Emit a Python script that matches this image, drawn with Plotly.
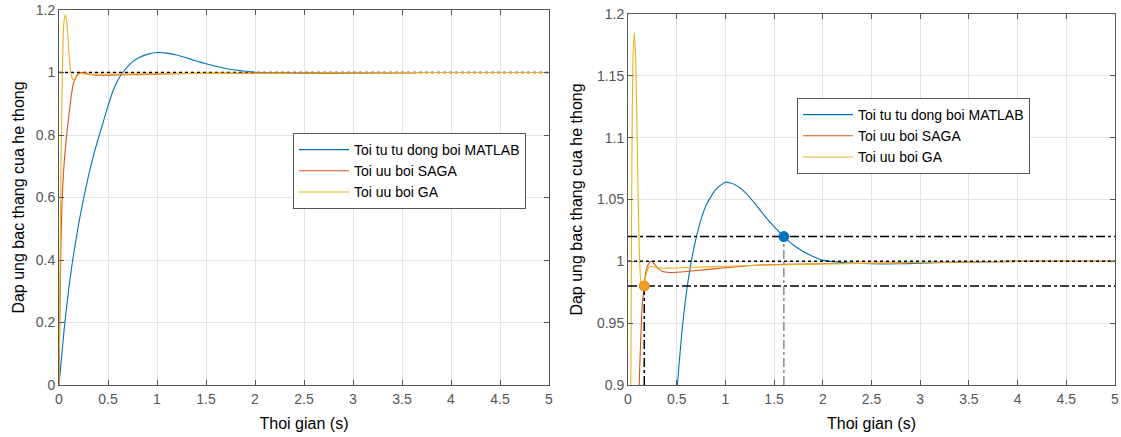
import plotly.graph_objects as go

# ---- data ----
t_matlab = [0, 0.05, 0.1, 0.15, 0.2, 0.25, 0.3, 0.35, 0.4, 0.45, 0.5, 0.55, 0.6, 0.65,
            0.7, 0.75, 0.8, 0.9, 1.0, 1.1, 1.2, 1.3, 1.4, 1.5, 1.6, 1.7, 1.8, 1.9, 2.0,
            2.2, 2.5, 2.8, 3.0, 3.5, 4.0, 5.0]
y_matlab = [0, 0.17, 0.31, 0.42, 0.515, 0.595, 0.668, 0.732, 0.788, 0.84, 0.893, 0.94, 0.975, 1.0,
            1.019, 1.034, 1.045, 1.058, 1.064, 1.062, 1.056, 1.047, 1.037, 1.028, 1.020, 1.013,
            1.008, 1.004, 1.001, 0.999, 0.998, 0.998, 0.9985, 0.9995, 1.0, 1.0]

t_saga = [0, 0.01, 0.02, 0.03, 0.05, 0.075, 0.1, 0.115, 0.125, 0.14, 0.15, 0.167, 0.18, 0.2,
          0.22, 0.245, 0.27, 0.3, 0.35, 0.43, 0.5, 0.6, 0.8, 1.0, 1.35, 1.6, 2.0, 2.4, 3.0,
          3.5, 4.0, 5.0]
y_saga = [0, 0.25, 0.45, 0.58, 0.70, 0.79, 0.86, 0.90, 0.925, 0.955, 0.968, 0.98, 0.99, 0.996,
          0.999, 1.0, 0.998, 0.995, 0.992, 0.991, 0.9912, 0.9918, 0.9933, 0.9948, 0.997, 0.9975,
          0.998, 0.9984, 0.999, 0.9995, 1.0, 1.0]

t_ga = [0, 0.01, 0.02, 0.03, 0.04, 0.05, 0.065, 0.08, 0.09, 0.1, 0.11, 0.12, 0.13, 0.14,
        0.15, 0.16, 0.18, 0.2, 0.22, 0.25, 0.3, 0.4, 0.6, 0.8, 1.0, 1.35, 1.6, 2.0, 2.5,
        3.0, 3.5, 4.0, 5.0]
y_ga = [0, 0.35, 0.68, 0.92, 1.08, 1.16, 1.185, 1.16, 1.12, 1.07, 1.03, 1.0, 0.985, 0.979,
        0.977, 0.979, 0.987, 0.993, 0.996, 0.9957, 0.9948, 0.9945, 0.995, 0.9955, 0.996,
        0.9968, 0.9972, 0.9978, 0.9984, 0.999, 0.9995, 1.0, 1.0]

names = ["Toi tu tu dong boi MATLAB", "Toi uu boi SAGA", "Toi uu boi GA"]
colors = ["#0072BD", "#D95319", "#EDB120"]

ref_level = 1.0
band_hi = 1.02
band_lo = 0.98
t_settle_matlab = 1.6
t_settle_ga = 0.167

x_ticks = [0, 0.5, 1, 1.5, 2, 2.5, 3, 3.5, 4, 4.5, 5]
left_y_ticks = [0, 0.2, 0.4, 0.6, 0.8, 1, 1.2]
right_y_ticks = [0.9, 0.95, 1, 1.05, 1.1, 1.15, 1.2]

x_title = "Thoi gian (s)"
y_title = "Dap ung bac thang cua he thong"

# ---- figure ----
fig = go.Figure()
series = [(t_matlab, y_matlab), (t_saga, y_saga), (t_ga, y_ga)]

# left panel
fig.add_trace(go.Scatter(x=[0, 5], y=[ref_level, ref_level], mode="lines",
                         line=dict(color="black", width=1.5, dash="dot"),
                         showlegend=False, xaxis="x", yaxis="y", hoverinfo="skip"))
for (tt, yy), n, c in zip(series, names, colors):
    fig.add_trace(go.Scatter(x=tt, y=yy, mode="lines", name=n,
                             line=dict(color=c, width=1.1, shape="spline", smoothing=0.6),
                             xaxis="x", yaxis="y", legend="legend"))

# right panel
for (tt, yy), n, c in zip(series, names, colors):
    fig.add_trace(go.Scatter(x=tt, y=yy, mode="lines", name=n,
                             line=dict(color=c, width=1.1, shape="spline", smoothing=0.6),
                             xaxis="x2", yaxis="y2", legend="legend2"))
ln = dict(xaxis="x2", yaxis="y2", showlegend=False, hoverinfo="skip", mode="lines")
fig.add_trace(go.Scatter(x=[0, 5], y=[ref_level, ref_level],
                         line=dict(color="black", width=1.5, dash="dot"), **ln))
fig.add_trace(go.Scatter(x=[0, 5], y=[band_hi, band_hi],
                         line=dict(color="black", width=1.5, dash="dashdot"), **ln))
fig.add_trace(go.Scatter(x=[0, 5], y=[band_lo, band_lo],
                         line=dict(color="black", width=1.5, dash="dashdot"), **ln))
fig.add_trace(go.Scatter(x=[t_settle_ga, t_settle_ga], y=[0.9, band_lo],
                         line=dict(color="black", width=1.5, dash="dashdot"), **ln))
fig.add_trace(go.Scatter(x=[t_settle_matlab, t_settle_matlab], y=[0.9, band_hi],
                         line=dict(color="#8c8c8c", width=1.5, dash="dashdot"), **ln))
fig.add_trace(go.Scatter(x=[t_settle_matlab], y=[band_hi], mode="markers",
                         marker=dict(color="#0072BD", size=10, line=dict(color="#0072BD", width=1)),
                         xaxis="x2", yaxis="y2", showlegend=False))
fig.add_trace(go.Scatter(x=[t_settle_ga], y=[band_lo], mode="markers",
                         marker=dict(color="#EDA020", size=10, line=dict(color="#E08a18", width=1)),
                         xaxis="x2", yaxis="y2", showlegend=False))

# body margin is removed below, so figure coords = page coords
W, H = 1121, 437


def fx(px):
    return px / W


def fy(py):
    return 1 - py / H


tickfont = dict(family="Liberation Sans, Arial", size=14, color="#555555")
titlefont = dict(family="Liberation Sans, Arial", size=16, color="black")
legfont = dict(family="Liberation Sans, Arial", size=14, color="black")
axis_common = dict(showline=True, linecolor="#555555", linewidth=1, mirror="allticks",
                   ticks="inside", ticklen=5, tickcolor="#555555", showgrid=True,
                   gridcolor="#e3e3e3", gridwidth=1, zeroline=False, tickfont=tickfont,
                   automargin=False)

fig.update_layout(
    width=W, height=H,
    margin=dict(l=0, r=0, t=0, b=0),
    paper_bgcolor="white", plot_bgcolor="white",
    xaxis=dict(domain=[fx(59), fx(549)], range=[0, 5], tickvals=x_ticks,
               ticktext=[f"{v:g}" for v in x_ticks], anchor="y", ticklabelstandoff=1,
               title=dict(text=x_title, font=titlefont, standoff=12), **axis_common),
    yaxis=dict(domain=[fy(385), fy(10)], range=[0, 1.2], tickvals=left_y_ticks,
               ticktext=[f"{v:g}" for v in left_y_ticks], anchor="x",
               title=dict(text=y_title, font=titlefont, standoff=7), **axis_common),
    xaxis2=dict(domain=[fx(628), fx(1115)], range=[0, 5], tickvals=x_ticks,
                ticktext=[f"{v:g}" for v in x_ticks], anchor="y2", ticklabelstandoff=1,
                title=dict(text=x_title, font=titlefont, standoff=12), **axis_common),
    yaxis2=dict(domain=[fy(385), fy(14)], range=[0.9, 1.2], tickvals=right_y_ticks,
                ticktext=[f"{v:g}" for v in right_y_ticks], anchor="x2",
                title=dict(text=y_title, font=titlefont, standoff=10), **axis_common),
    legend=dict(x=fx(293), y=fy(133), xanchor="left", yanchor="top",
                bgcolor="white", bordercolor="#555555", borderwidth=1,
                font=legfont, tracegroupgap=0, itemwidth=50),
    legend2=dict(x=fx(797), y=fy(98), xanchor="left", yanchor="top",
                 bgcolor="white", bordercolor="#555555", borderwidth=1,
                 font=legfont, tracegroupgap=0, itemwidth=50),
    showlegend=True,
)

fig.write_html("out.html",
               config={"displayModeBar": False},
               post_script="document.body.style.margin='0';document.body.style.overflow='hidden';")
